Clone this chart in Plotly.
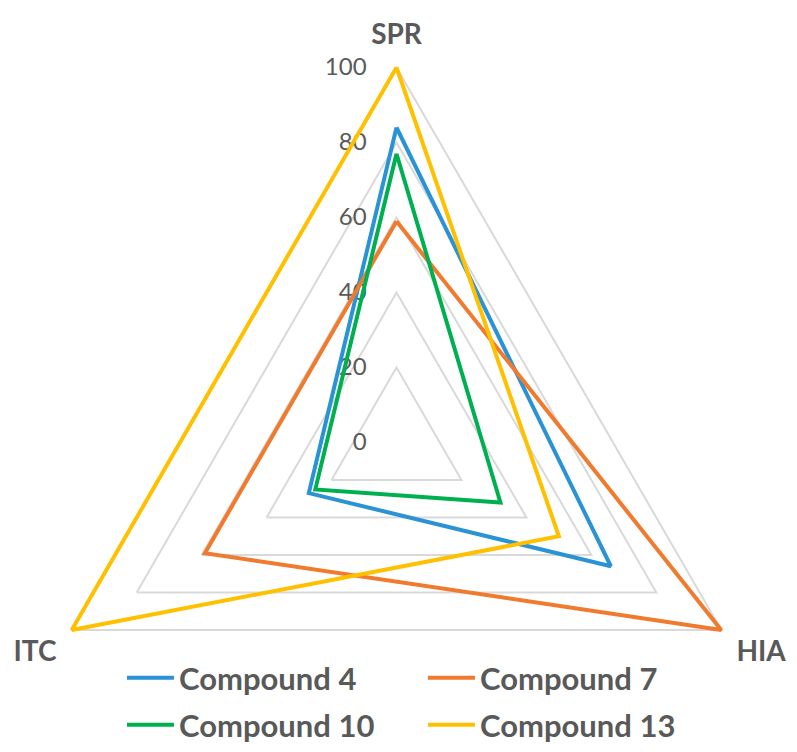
import plotly.graph_objects as go

categories = ["SPR", "HIA", "ITC"]
compound_4 = [84, 66, 27]
compound_7 = [59, 100, 59]
compound_10 = [77, 32, 25]
compound_13 = [100, 50, 100]
radial_ticks = [0, 20, 40, 60, 80, 100]

series = [
    ("Compound 4", compound_4, "#2A93D5", "legend"),
    ("Compound 7", compound_7, "#F07B2F", "legend"),
    ("Compound 10", compound_10, "#00B050", "legend2"),
    ("Compound 13", compound_13, "#FFC000", "legend2"),
]

fig = go.Figure()
for name, vals, color, leg in series:
    fig.add_trace(go.Scatterpolar(
        r=vals + vals[:1],
        theta=categories + categories[:1],
        mode="lines",
        name=name,
        legend=leg,
        line=dict(color=color, width=4),
        cliponaxis=False,
    ))

legend_font = dict(family="Lato", size=31, color="#595959", weight="bold")
legend_common = dict(
    orientation="h",
    x=0.1538,
    xanchor="left",
    yanchor="middle",
    entrywidth=239,
    entrywidthmode="pixels",
    itemwidth=47,
    font=legend_font,
    bgcolor="rgba(0,0,0,0)",
)

fig.update_layout(
    width=797,
    height=825,
    margin=dict(l=0, r=4, t=60, b=0),
    paper_bgcolor="white",
    font=dict(family="Lato", color="#595959"),
    polar=dict(
        bgcolor="white",
        gridshape="linear",
        domain=dict(x=[0, 1], y=[0, 1]),
        angularaxis=dict(
            direction="clockwise",
            rotation=90,
            showgrid=False,
            showline=False,
            layer="below traces",
            ticks="outside",
            ticklen=4,
            tickcolor="rgba(0,0,0,0)",
            tickfont=dict(family="Lato", size=28, color="#595959", weight="bold"),
        ),
        radialaxis=dict(
            range=[0, 102],
            tickvals=radial_ticks,
            angle=90,
            side="counterclockwise",
            tickangle=90,
            showline=False,
            gridcolor="#D9D9D9",
            gridwidth=1.5,
            layer="below traces",
            ticks="outside",
            ticklen=21,
            tickcolor="rgba(0,0,0,0)",
            tickfont=dict(family="Lato", size=24, color="#595959"),
        ),
    ),
    showlegend=True,
    legend=dict(y=0.1921, **legend_common),
    legend2=dict(y=0.1307, **legend_common),
)

post = ("document.documentElement.style.overflow='hidden';"
        "document.body.style.overflow='hidden';"
        "document.body.style.margin='0';")
fig.write_html("out.html", post_script=post, config={"displayModeBar": False})
